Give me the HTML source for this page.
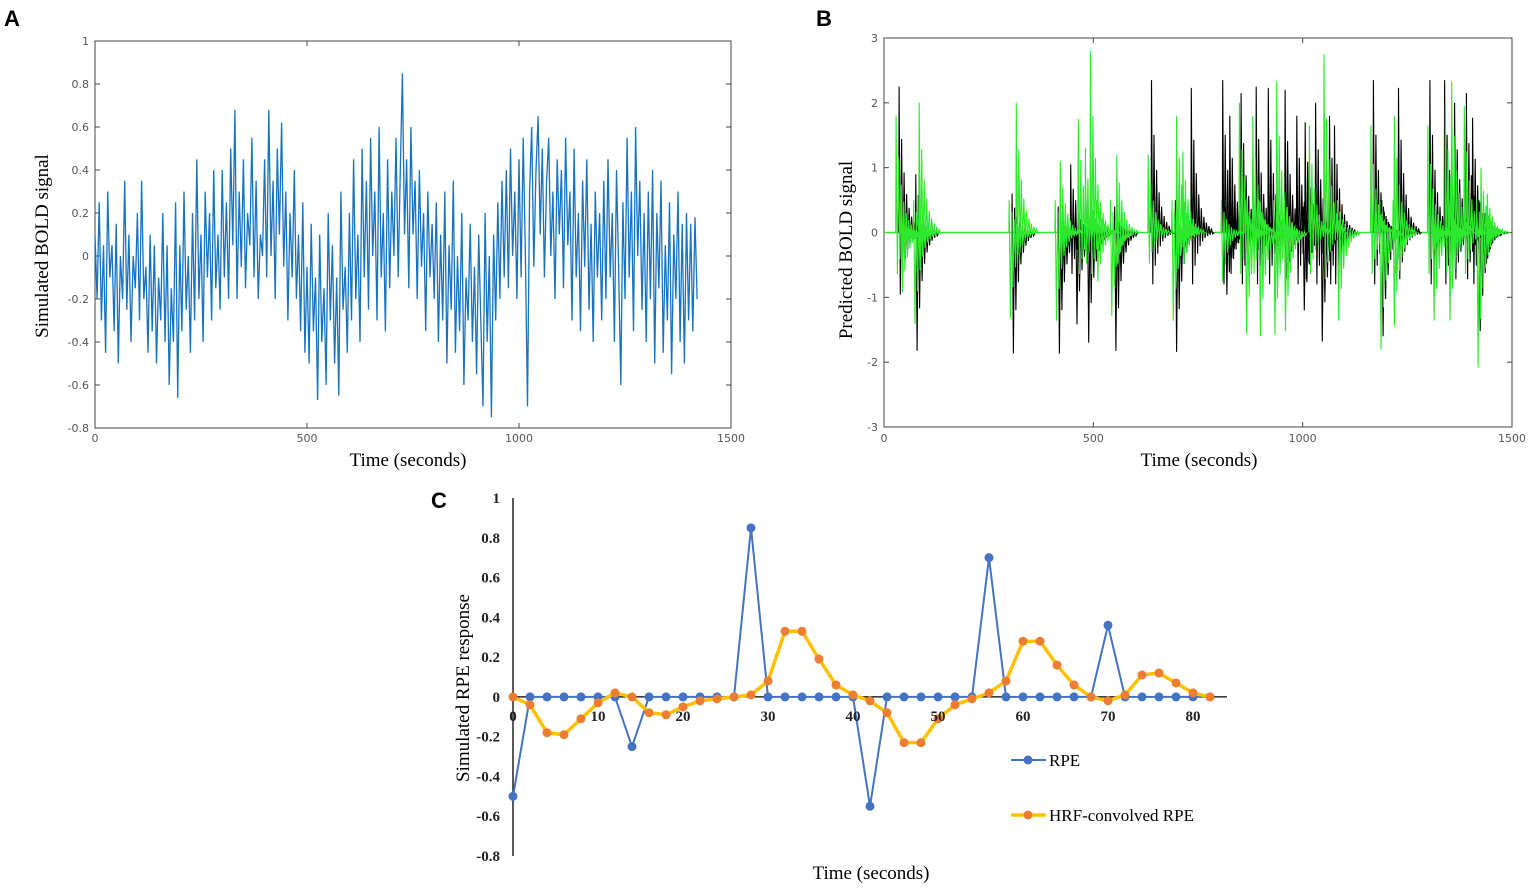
<!DOCTYPE html>
<html><head><meta charset="utf-8"><style>
body{margin:0;background:#fff;}
svg{display:block;}
.tk{font-family:"DejaVu Sans","Liberation Sans",sans-serif;font-size:11px;fill:#555;}
.ser{font-family:"Liberation Serif",serif;}
.pl{font-family:"Liberation Sans",sans-serif;font-weight:bold;font-size:22px;fill:#000;}
</style></head><body>
<svg id="s" width="1535" height="890" xmlns="http://www.w3.org/2000/svg">
<text class="pl" x="4" y="26">A</text>
<text class="pl" x="816" y="26">B</text>
<text class="pl" x="431" y="508">C</text>
</svg>
<script>
// ---- Panel A data (value every 5 s) ----
const aStep = 5;
const aValues = [0.1,-0.2,0.25,-0.3,0.05,-0.45,0.3,-0.1,0.05,-0.35,0.15,-0.5,0.0,-0.2,0.35,-0.25,0.1,-0.4,0.0,-0.15,
0.2,-0.3,0.35,-0.2,-0.05,-0.45,0.1,-0.35,0.05,-0.5,-0.1,-0.3,0.2,-0.4,0.05,-0.6,-0.15,-0.4,0.25,-0.66,
0.05,-0.35,0.3,-0.25,0.0,-0.45,0.2,-0.3,0.45,-0.2,0.1,-0.4,0.3,-0.1,0.2,-0.3,0.4,-0.15,0.1,-0.25,
0.4,-0.1,0.25,-0.2,0.5,0.05,0.68,-0.2,0.3,-0.05,0.45,-0.15,0.2,0.05,0.55,-0.1,0.35,-0.2,0.1,0.0,
0.45,-0.1,0.68,0.0,0.35,-0.2,0.5,0.1,0.62,-0.05,0.3,-0.3,0.2,-0.1,0.4,-0.2,0.1,-0.35,0.25,-0.45,
-0.05,-0.5,0.15,-0.35,-0.1,-0.67,0.1,-0.4,-0.15,-0.6,0.2,-0.3,0.05,-0.5,-0.1,-0.65,0.3,-0.25,-0.05,-0.45,
0.2,-0.3,0.45,-0.2,0.1,-0.4,0.5,-0.1,0.35,-0.25,0.55,0.0,0.3,-0.3,0.6,-0.1,0.2,-0.35,0.45,-0.15,
0.3,0.0,0.55,-0.1,0.4,0.85,0.1,0.45,-0.15,0.6,0.1,0.35,-0.2,0.4,-0.05,0.2,-0.35,0.3,-0.1,0.15,
-0.2,0.25,-0.4,0.1,-0.3,0.3,-0.5,0.05,-0.25,0.35,-0.45,0.0,-0.35,0.2,-0.6,-0.1,-0.3,0.15,-0.4,-0.05,
-0.55,0.1,-0.3,-0.7,0.2,-0.4,0.0,-0.75,0.1,-0.3,0.25,-0.2,0.35,-0.1,0.4,-0.15,0.5,0.0,0.3,-0.2,
0.45,-0.1,0.55,0.0,-0.7,0.3,0.6,-0.05,0.4,0.65,0.1,0.5,-0.1,0.35,0.55,0.0,0.3,-0.2,0.45,0.1,
0.4,-0.15,0.55,0.05,0.3,-0.3,0.5,-0.1,0.2,-0.35,0.35,-0.05,0.45,-0.25,0.15,-0.4,0.3,-0.1,0.2,-0.3,
0.35,-0.2,0.45,-0.1,0.2,-0.4,0.4,-0.05,-0.6,0.25,-0.2,0.55,-0.1,0.3,-0.35,0.6,0.0,0.35,-0.25,0.2,
-0.4,0.3,-0.2,0.4,-0.5,0.2,-0.15,0.35,-0.45,0.05,-0.3,0.25,-0.55,0.1,-0.2,0.3,-0.4,0.15,-0.5,0.2,
-0.3,0.15,-0.35,0.18,-0.2];
const aXTicks = [0,500,1000,1500];
const aYTicks = [1,0.8,0.6,0.4,0.2,0,-0.2,-0.4,-0.6,-0.8];

// ---- Panel B data: events (onset s, peak, trough) ----
const bBlackTimes = [35,75,305,415,445,457,485,550,638,695,733,808,815,825,852,888,917,957,985,1000,1005,1030,1043,1063,1075,1168,1188,1228,1303,1338,1362,1390,1405,1420,1435];
const bBlackPeaks = [2.25,0.9,0.6,0.4,1.05,0.5,0.5,0.4,2.35,0.5,2.23,2.35,0.4,1.8,2.15,2.25,2.23,2.2,1.8,0.4,1.7,2.0,0.4,1.8,1.65,2.35,0.5,2.23,2.35,2.35,2.0,2.15,1.77,0.5,0.3];
const bBlackTroughs = [-1.2,-2.28,-2.33,-2.33,-0.8,-1.77,-2.12,-2.28,-1.0,-2.3,-1.0,-1.0,-1.2,-0.8,-1.0,-1.0,-1.0,-0.9,-1.0,-1.5,-0.9,-1.0,-2.1,-1.0,-1.0,-1.0,-2.0,-0.9,-1.0,-1.0,-0.9,-0.9,-1.0,-1.9,-0.6];
const bGreenTimes = [28,40,70,83,298,315,408,420,463,480,492,507,540,555,630,687,698,713,805,848,862,880,895,930,937,955,1015,1050,1082,1162,1183,1215,1218,1298,1310,1340,1348,1355,1385,1415,1425,1440];
const bGreenPeaks = [1.8,0.5,0.5,2.0,0.5,2.0,0.5,1.1,1.75,1.3,2.8,0.5,0.5,1.2,1.2,0.5,1.8,1.25,0.5,2.0,0.5,1.8,0.5,0.5,2.33,0.5,1.65,2.75,0.5,1.65,0.5,0.5,1.8,1.65,0.5,2.0,0.5,2.33,1.95,0.5,1.0,0.6];
const bGreenTroughs = [-0.8,-1.15,-1.77,-0.7,-1.64,-0.6,-1.7,-0.6,-0.8,-0.6,-0.8,-0.95,-1.6,-0.6,-0.6,-1.7,-0.7,-0.6,-0.95,-0.8,-1.95,-0.8,-2.0,-1.97,-0.8,-1.9,-0.8,-0.9,-1.7,-0.8,-2.25,-1.8,-0.8,-0.8,-1.7,-0.8,-1.7,-0.8,-0.8,-2.6,-0.5,-0.3];
const bXTicks = [0,500,1000,1500];
const bYTicks = [3,2,1,0,-1,-2,-3];

// ---- Panel C data ----
const cTimes = [0,2,4,6,8,10,12,14,16,18,20,22,24,26,28,30,32,34,36,38,40,42,44,46,48,50,52,54,56,58,60,62,64,66,68,70,72,74,76,78,80,82];
const cRPE = [-0.5,0,0,0,0,0,0,-0.25,0,0,0,0,0,0,0.85,0,0,0,0,0,0,-0.55,0,0,0,0,0,0,0.7,0,0,0,0,0,0,0.36,0,0,0,0,0,0];
const cHRF = [0,-0.04,-0.18,-0.19,-0.11,-0.03,0.02,0,-0.08,-0.09,-0.05,-0.02,-0.01,0,0.01,0.08,0.33,0.33,0.19,0.06,0.01,-0.02,-0.08,-0.23,-0.23,-0.11,-0.04,-0.01,0.02,0.08,0.28,0.28,0.16,0.06,0.0,-0.02,0.01,0.11,0.12,0.07,0.02,0];
const cXTicks = [0,10,20,30,40,50,60,70,80];
const cYTicks = [1,0.8,0.6,0.4,0.2,0,-0.2,-0.4,-0.6,-0.8];

const NS='http://www.w3.org/2000/svg';
const svg=document.getElementById('s');
function mk(tag,attrs,parent){const e=document.createElementNS(NS,tag);for(const k in attrs)e.setAttribute(k,attrs[k]);(parent||svg).appendChild(e);return e;}
function lin(d0,d1,r0,r1){return v=>r0+(v-d0)*(r1-r0)/(d1-d0);}

// ===== Panel A =====
const ax=lin(0,1500,95,731), ay=lin(1,-0.8,41,428);
const gA=mk('g',{});


let e=mk('rect',{x:95,y:41,width:636,height:387,fill:'none',stroke:'#444','stroke-width':1},gA);


aXTicks.forEach(t=>{
 mk('line',{x1:ax(t),x2:ax(t),y1:428,y2:423,stroke:'#444'},gA);
 mk('line',{x1:ax(t),x2:ax(t),y1:41,y2:46,stroke:'#444'},gA);
 const tx=mk('text',{x:ax(t),y:442,'text-anchor':'middle',class:'tk'},gA);tx.textContent=t;
 
 
});
aYTicks.forEach(t=>{
 mk('line',{x1:95,x2:100,y1:ay(t),y2:ay(t),stroke:'#444'},gA);
 mk('line',{x1:731,x2:726,y1:ay(t),y2:ay(t),stroke:'#444'},gA);
 const tx=mk('text',{x:89,y:ay(t)+4,'text-anchor':'end',class:'tk'},gA);tx.textContent=t;
 
 
});
let pts=aValues.map((v,i)=>ax(i*aStep).toFixed(1)+','+ay(v).toFixed(1)).join(' ');
e=mk('polyline',{points:pts,fill:'none',stroke:'#1772c0','stroke-width':1.3},gA);


e=mk('text',{x:408,y:466,'text-anchor':'middle',class:'ser','font-size':19},gA);e.textContent='Time (seconds)';


e=mk('text',{transform:'translate(48,246) rotate(-90)','text-anchor':'middle',class:'ser','font-size':19},gA);e.textContent='Simulated BOLD signal';



// ===== Panel B =====
const bx=lin(0,1500,884,1512), by=lin(3,-3,38,427);
const gB=mk('g',{});


e=mk('rect',{x:884,y:38,width:628,height:389,fill:'none',stroke:'#444'},gB);


bXTicks.forEach(t=>{
 mk('line',{x1:bx(t),x2:bx(t),y1:427,y2:422,stroke:'#444'},gB);
 mk('line',{x1:bx(t),x2:bx(t),y1:38,y2:43,stroke:'#444'},gB);
 const tx=mk('text',{x:bx(t),y:442,'text-anchor':'middle',class:'tk'},gB);tx.textContent=t;
 
 
});
bYTicks.forEach(t=>{
 mk('line',{x1:884,x2:889,y1:by(t),y2:by(t),stroke:'#444'},gB);
 mk('line',{x1:1512,x2:1507,y1:by(t),y2:by(t),stroke:'#444'},gB);
 const tx=mk('text',{x:878,y:by(t)+4,'text-anchor':'end',class:'tk'},gB);tx.textContent=t;
 
 
});
e=mk('line',{x1:bx(0),x2:bx(1440),y1:by(0),y2:by(0),stroke:'#33e633','stroke-width':1.5},gB);


function drawEvents(times,peaks,troughs,color,name){
 times.forEach((t0,i)=>{
  const p=[[t0,0]];
  for(let k=0;k<18;k++){
   const amp=(k%2===0?peaks[i]:troughs[i])*Math.exp(-k/4.5);
   p.push([t0+1+k*3,amp]);
  }
  p.push([t0+56,0]);
  const l=mk('polyline',{points:p.map(q=>bx(q[0]).toFixed(1)+','+by(q[1]).toFixed(1)).join(' '),fill:'none',stroke:color,'stroke-width':1.1},gB);
  
  
 });
}
drawEvents(bBlackTimes,bBlackPeaks,bBlackTroughs,'#000','black-response-spike');
drawEvents(bGreenTimes,bGreenPeaks,bGreenTroughs,'#2ee82e','green-response-spike');
e=mk('text',{x:1199,y:466,'text-anchor':'middle',class:'ser','font-size':19},gB);e.textContent='Time (seconds)';


e=mk('text',{transform:'translate(852,250) rotate(-90)','text-anchor':'middle',class:'ser','font-size':19},gB);e.textContent='Predicted BOLD signal';



// ===== Panel C =====
const cx=lin(0,80,513,1193), cy=lin(1,-0.8,498,856);
const gC=mk('g',{});


e=mk('line',{x1:513,x2:513,y1:498,y2:856,stroke:'#000','stroke-width':1.3},gC);


e=mk('line',{x1:513,x2:1227,y1:cy(0),y2:cy(0),stroke:'#000','stroke-width':1.3},gC);


cYTicks.forEach(t=>{
 const tx=mk('text',{x:500,y:cy(t)+5,'text-anchor':'end',class:'ser','font-size':15,'font-weight':'bold',fill:'#222'},gC);tx.textContent=t;
 
 
});
function series(vals,line,lw,dot,name){
 const l=mk('polyline',{points:cTimes.map((t,i)=>cx(t).toFixed(1)+','+cy(vals[i]).toFixed(1)).join(' '),fill:'none',stroke:line,'stroke-width':lw,'stroke-linejoin':'round'},gC);
 
 
 cTimes.forEach((t,i)=>{
  const c=mk('circle',{cx:cx(t),cy:cy(vals[i]),r:4.5,fill:dot},gC);
  
  
 });
}
series(cRPE,'#4472c4',2,'#4472c4','rpe');
series(cHRF,'#ffc000',3.5,'#ed7d31','hrf-rpe');
cXTicks.forEach(t=>{
 const tx=mk('text',{x:cx(t),y:cy(0)+24,'text-anchor':'middle',class:'ser','font-size':15,'font-weight':'bold',fill:'#222'},gC);tx.textContent=t;
 
 
});
// legend
e=mk('line',{x1:1011,x2:1046,y1:760,y2:760,stroke:'#4472c4','stroke-width':2},gC);


mk('circle',{cx:1028,cy:760,r:4.5,fill:'#4472c4'},gC);
e=mk('text',{x:1049,y:766,class:'ser','font-size':17},gC);e.textContent='RPE';


e=mk('line',{x1:1011,x2:1046,y1:815,y2:815,stroke:'#ffc000','stroke-width':3.5},gC);


mk('circle',{cx:1028,cy:815,r:4.5,fill:'#ed7d31'},gC);
e=mk('text',{x:1049,y:821,class:'ser','font-size':17},gC);e.textContent='HRF-convolved RPE';


e=mk('text',{x:871,y:879,'text-anchor':'middle',class:'ser','font-size':19},gC);e.textContent='Time (seconds)';


e=mk('text',{transform:'translate(469,688) rotate(-90)','text-anchor':'middle',class:'ser','font-size':19},gC);e.textContent='Simulated RPE response';


</script>
</body></html>
